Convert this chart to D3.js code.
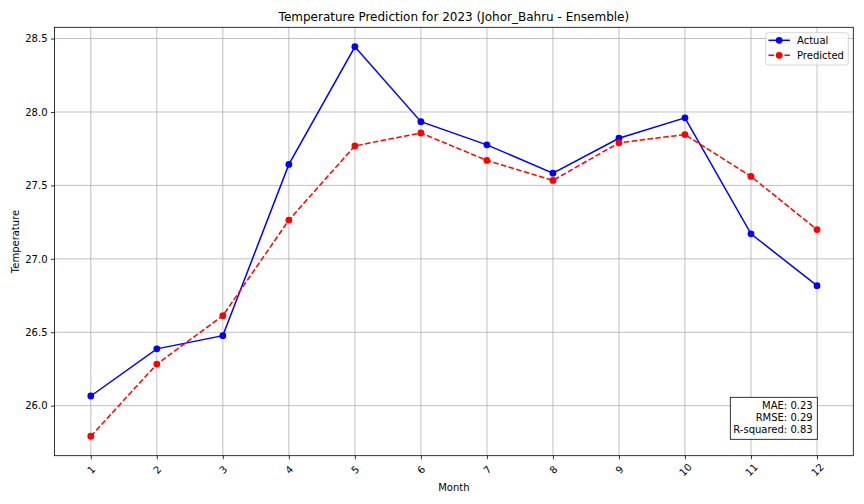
<!DOCTYPE html>
<html><head><meta charset="utf-8">
<script src="https://cdn.jsdelivr.net/npm/d3@7"></script>
<style>body{margin:0;background:#fff;} text{font-family:"DejaVu Sans",sans-serif;}</style>
</head><body>
<svg id="c" width="864" height="504"></svg>
<script>
const months = [1,2,3,4,5,6,7,8,9,10,11,12];
const actual = [26.066,26.387,26.477,27.643,28.444,27.934,27.776,27.583,27.821,27.960,27.170,26.817];
const predicted = [25.792,26.283,26.613,27.264,27.769,27.857,27.670,27.534,27.790,27.846,27.561,27.199];
const yTicks = [26.0,26.5,27.0,27.5,28.0,28.5];
const statsLines = ["MAE: 0.23","RMSE: 0.29","R-squared: 0.83"];
const titleText = "Temperature Prediction for 2023 (Johor_Bahru - Ensemble)";

const svg = d3.select("#c");
const L=54.5, R=853.3, T=27.3, B=455.7;
const all = actual.concat(predicted);
const ymin=d3.min(all), ymax=d3.max(all), yr=ymax-ymin;
const x = d3.scaleLinear().domain([1-11*0.05, 12+11*0.05]).range([L,R]);
const y = d3.scaleLinear().domain([ymin-yr*0.05, ymax+yr*0.05]).range([B,T]);

// grid
const g = svg.append("g");
g.selectAll("line.vx").data(months).enter().append("line")
 .attr("x1",d=>x(d)).attr("x2",d=>x(d)).attr("y1",T).attr("y2",B)
 .attr("stroke","#b0b0b0").attr("stroke-width",0.8);
g.selectAll("line.hy").data(yTicks).enter().append("line")
 .attr("x1",L).attr("x2",R).attr("y1",d=>y(d)).attr("y2",d=>y(d))
 .attr("stroke","#b0b0b0").attr("stroke-width",0.8);

// axes
const xAxis = svg.append("g").attr("transform",`translate(0,${B})`)
 .call(d3.axisBottom(x).tickValues(months).tickSize(3.5).tickPadding(3).tickFormat(d3.format("d")));
xAxis.selectAll("text").attr("font-size",10).attr("fill","#000")
 .attr("text-anchor","middle").attr("dy",null).attr("y",null)
 .attr("transform","translate(0,14) rotate(-45)").attr("dominant-baseline","central");
const yAxis = svg.append("g").attr("transform",`translate(${L},0)`)
 .call(d3.axisLeft(y).tickValues(yTicks).tickSize(3.5).tickPadding(3.5).tickFormat(d3.format(".1f")));
yAxis.selectAll("text").attr("font-size",10).attr("fill","#000");
svg.selectAll(".domain").remove();
svg.selectAll(".tick line").attr("stroke","#000").attr("stroke-width",0.8);
svg.append("rect").attr("x",L).attr("y",T).attr("width",R-L).attr("height",B-T)
 .attr("fill","none").attr("stroke","#000").attr("stroke-width",0.8);

// lines
const line = d3.line().x((d,i)=>x(months[i])).y(d=>y(d));
svg.append("path").datum(actual).attr("d",line).attr("fill","none")
 .attr("stroke","#0000ff").attr("stroke-width",1.5);
svg.append("path").datum(predicted).attr("d",line).attr("fill","none")
 .attr("stroke","#ff0000").attr("stroke-width",1.5).attr("stroke-dasharray","5.55,2.4");
svg.selectAll("circle.a").data(actual).enter().append("circle")
 .attr("cx",(d,i)=>x(months[i])).attr("cy",d=>y(d)).attr("r",3.4).attr("fill","#0000ff");
svg.selectAll("circle.p").data(predicted).enter().append("circle")
 .attr("cx",(d,i)=>x(months[i])).attr("cy",d=>y(d)).attr("r",3.4).attr("fill","#ff0000");

// title & labels
svg.append("text").attr("x",(L+R)/2).attr("y",21).attr("text-anchor","middle")
 .attr("font-size",12).text(titleText);
svg.append("text").attr("x",(L+R)/2).attr("y",491).attr("text-anchor","middle")
 .attr("font-size",10).text("Month");
svg.append("text").attr("transform",`translate(19,${(T+B)/2}) rotate(-90)`).attr("text-anchor","middle")
 .attr("font-size",10).text("Temperature");

// legend
const lg = svg.append("g");
lg.append("rect").attr("x",765.7).attr("y",32.7).attr("width",82.6).attr("height",32.3)
 .attr("rx",2.5).attr("fill","#fff").attr("fill-opacity",0.8).attr("stroke","#cccccc").attr("stroke-width",0.8);
const items=[{n:"Actual",c:"#0000ff",dash:null,yy:40.3},{n:"Predicted",c:"#ff0000",dash:"5.55,2.4",yy:55.3}];
items.forEach(it=>{
  lg.append("line").attr("x1",768.5).attr("x2",790).attr("y1",it.yy).attr("y2",it.yy)
   .attr("stroke",it.c).attr("stroke-width",1.5).attr("stroke-dasharray",it.dash);
  lg.append("circle").attr("cx",779.2).attr("cy",it.yy).attr("r",3.4).attr("fill",it.c);
  lg.append("text").attr("x",797).attr("y",it.yy+3.6).attr("font-size",10).text(it.n);
});

// stats box
svg.append("rect").attr("x",730.3).attr("y",397.3).attr("width",87).attr("height",42)
 .attr("fill","#fff").attr("stroke","#000").attr("stroke-width",0.8);
statsLines.forEach((s,i)=>{
  svg.append("text").attr("x",812.7).attr("y",409+i*11.8).attr("text-anchor","end")
   .attr("font-size",10).text(s);
});
</script>
</body></html>
